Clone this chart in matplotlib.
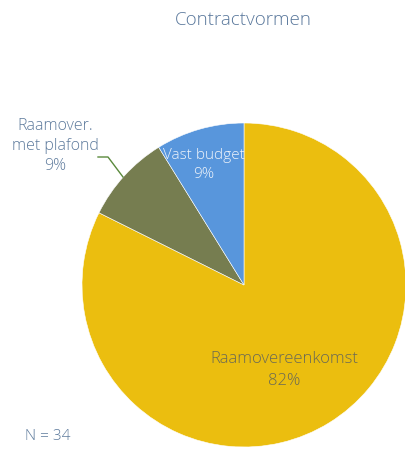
import matplotlib
matplotlib.use("Agg")
import matplotlib.pyplot as plt

# Contract types, counted from N = 34 respondents
categories = ["Raamovereenkomst", "Raamover.\nmet plafond", "Vast budget"]
counts = [28, 3, 3]
colors = ["#EBBE0F", "#767D50", "#5896DC"]
total = sum(counts)

plt.rcParams["font.family"] = ["Open Sans", "DejaVu Sans"]

fig = plt.figure(figsize=(4.06, 4.5), dpi=100)
ax = fig.add_axes([0, 0, 1, 1])

wedges, _ = ax.pie(counts, colors=colors, startangle=90, counterclock=False,
                   center=(244, 165), radius=162,
                   wedgeprops=dict(linewidth=0.4, edgecolor="white"))
ax.set_xlim(0, 406)
ax.set_ylim(0, 450)
ax.set_aspect("equal")
ax.axis("off")

pcts = [f"{round(c / total * 100)}%" for c in counts]

ax.text(284, 80, f"{categories[0]}\n{pcts[0]}", ha="center", va="center",
        fontsize=12, color="#6B6A55", fontweight="light", linespacing=1.45)
ax.text(204, 285, f"{categories[2]}\n{pcts[2]}", ha="center", va="center",
        fontsize=11, color="#EEF3FA", fontweight="light", linespacing=1.35)
ax.text(55, 304, f"{categories[1]}\n{pcts[1]}", ha="center", va="center",
        fontsize=11.5, color="#5D7A9C", fontweight="light", linespacing=1.35)
# leader line from the label to its wedge
ax.plot([98, 108, 123], [293, 293, 273], color="#5A8A3C", linewidth=1.0)

ax.text(243, 430, "Contractvormen", ha="center", va="center",
        fontsize=13.5, color="#5A789C", fontweight="light")
ax.text(25, 13, "N = 34", ha="left", va="center",
        fontsize=11, color="#5D7A9C", fontweight="light")

fig.savefig("out.png", dpi=100)
